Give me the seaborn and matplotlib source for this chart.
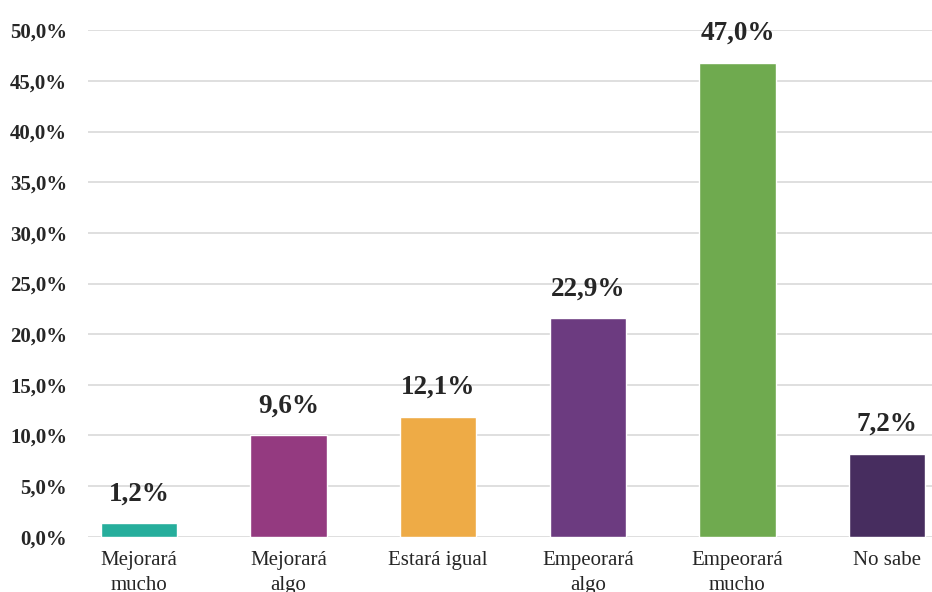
import pandas as pd
import matplotlib.pyplot as plt
import seaborn as sns

categories = ['Mejorará\nmucho', 'Mejorará\nalgo', 'Estará igual',
              'Empeorará\nalgo', 'Empeorará\nmucho', 'No sabe']
values = [1.35, 10.0, 11.85, 21.6, 46.8, 8.2]          # bar heights as drawn (%)
value_labels = ['1,2%', '9,6%', '12,1%', '22,9%', '47,0%', '7,2%']
colors = ['#26AE9C', '#943A80', '#EEAB46', '#6C3B80', '#6FAA4F', '#472D5F']

df = pd.DataFrame({'cat': categories, 'val': values})

sns.set_style('white')
plt.rcParams['font.family'] = ['Liberation Serif', 'DejaVu Serif']

fig, ax = plt.subplots(figsize=(9.32, 5.92), dpi=100)
fig.subplots_adjust(left=88/932, right=1.0, top=1-30.3/592, bottom=1-536.7/592)

sns.barplot(data=df, x='cat', y='val', hue='cat', palette=colors,
            legend=False, width=0.51, saturation=1, ax=ax)

ax.set_ylim(0, 50)
ax.set_xlim(-0.34, 5.3)
ax.set_yticks(range(0, 51, 5))
ax.set_yticklabels([f'{v:.1f}%'.replace('.', ',') for v in range(0, 51, 5)],
                   fontsize=15, fontweight='bold', color='#262626')
ax.tick_params(axis='y', length=0, pad=15)
ax.tick_params(axis='x', length=0, pad=10, labelsize=15, labelcolor='#262626')
for t in ax.get_xticklabels():
    t.set_linespacing(1.45)
ax.set_xlabel('')
ax.set_ylabel('')
ax.yaxis.grid(True, color='#D9D9D9', linewidth=1.2)
ax.set_axisbelow(True)
for s in ax.spines.values():
    s.set_visible(False)

for i, (v, lab) in enumerate(zip(values, value_labels)):
    ax.annotate(lab, (i, v), xytext=(0, 12), textcoords='offset points',
                ha='center', va='bottom', fontsize=19.5, fontweight='bold',
                color='#262626')

plt.savefig('out.png', dpi=100)
